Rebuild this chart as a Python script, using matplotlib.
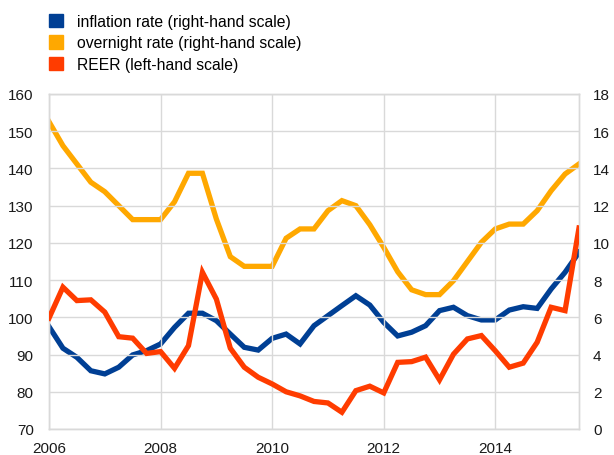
import matplotlib

matplotlib.use("Agg")
import matplotlib.pyplot as plt
import numpy as np
from matplotlib.patches import Patch

plt.rcParams["font.family"] = ["Liberation Sans", "DejaVu Sans"]

# quarterly observations, 2006Q1 .. 2015Q3
START_YEAR = 2006.0
N_QUARTERS = 39

inflation = [
    5.50, 4.34, 3.85, 3.13, 2.96, 3.32, 3.98, 4.21, 4.57, 5.46,
    6.22, 6.22, 5.82, 5.10, 4.39, 4.24, 4.87, 5.10, 4.57, 5.55,
    6.09, 6.63, 7.16, 6.66, 5.73, 5.00, 5.20, 5.55, 6.36, 6.54,
    6.09, 5.86, 5.86, 6.39, 6.57, 6.48, 7.52, 8.42, 9.49,
]
overnight = [
    16.51, 15.22, 14.24, 13.26, 12.75, 12.00, 11.25, 11.25, 11.25, 12.21,
    13.74, 13.74, 11.28, 9.26, 8.74, 8.74, 8.74, 10.25, 10.75, 10.75,
    11.73, 12.27, 12.00, 10.98, 9.76, 8.45, 7.48, 7.22, 7.22, 7.97,
    9.00, 10.03, 10.75, 11.01, 11.01, 11.73, 12.80, 13.70, 14.24,
]
reer = [
    99.8, 108.1, 104.5, 104.7, 101.4, 94.8, 94.4, 90.3, 90.8, 86.3,
    92.4, 112.1, 104.9, 91.7, 86.6, 83.9, 82.1, 80.0, 78.9, 77.4,
    77.0, 74.5, 80.3, 81.5, 79.7, 87.9, 88.1, 89.3, 83.2, 90.1,
    94.2, 95.1, 91.0, 86.6, 87.7, 93.3, 102.7, 101.8, 124.0,
]

labels = [
    "inflation rate (right-hand scale)",
    "overnight rate (right-hand scale)",
    "REER (left-hand scale)",
]
BLUE = "#003f94"
YELLOW = "#ffa800"
RED = "#ff3c00"
GRID = "#d9d9d9"

x = START_YEAR + 0.25 * np.arange(N_QUARTERS)

fig = plt.figure(figsize=(6.14, 4.56), dpi=100)
ax = fig.add_axes([49 / 614, 26 / 456, 530 / 614, 335 / 456])
ax2 = ax.twinx()

ax2.plot(x, overnight, color=YELLOW, linewidth=3.8, solid_joinstyle="miter", zorder=2)
ax2.plot(x, inflation, color=BLUE, linewidth=3.8, solid_joinstyle="miter", zorder=3)
ax.plot(x, reer, color=RED, linewidth=3.8, solid_joinstyle="miter", zorder=4)

ax.set_zorder(ax2.get_zorder() + 1)
ax.patch.set_visible(False)

ax.set_xlim(x[0], x[-1])
ax.set_ylim(70, 160)
ax.set_yticks(range(70, 161, 10))
ax2.set_ylim(0, 18)
ax2.set_yticks(range(0, 19, 2))
ax.set_xticks([2006, 2008, 2010, 2012, 2014])

ax.grid(True, color=GRID, linewidth=1.0)
ax.set_axisbelow(True)
for a in (ax, ax2):
    for spine in a.spines.values():
        spine.set_color(GRID)
        spine.set_linewidth(1.0)
    a.tick_params(length=0, labelsize=11, colors="#1a1a1a")
ax.tick_params(axis="y", pad=11)
ax.tick_params(axis="x", pad=9)
ax2.tick_params(axis="y", pad=10)

handles = [Patch(color=BLUE), Patch(color=YELLOW), Patch(color=RED)]
fig.legend(
    handles,
    labels,
    loc="upper left",
    bbox_to_anchor=(35 / 614, 1.0 - 1 / 456),
    frameon=False,
    fontsize=11.3,
    handlelength=0.9,
    handleheight=0.9,
    handletextpad=0.9,
    labelspacing=0.4,
)

fig.savefig("out.png", dpi=100)
